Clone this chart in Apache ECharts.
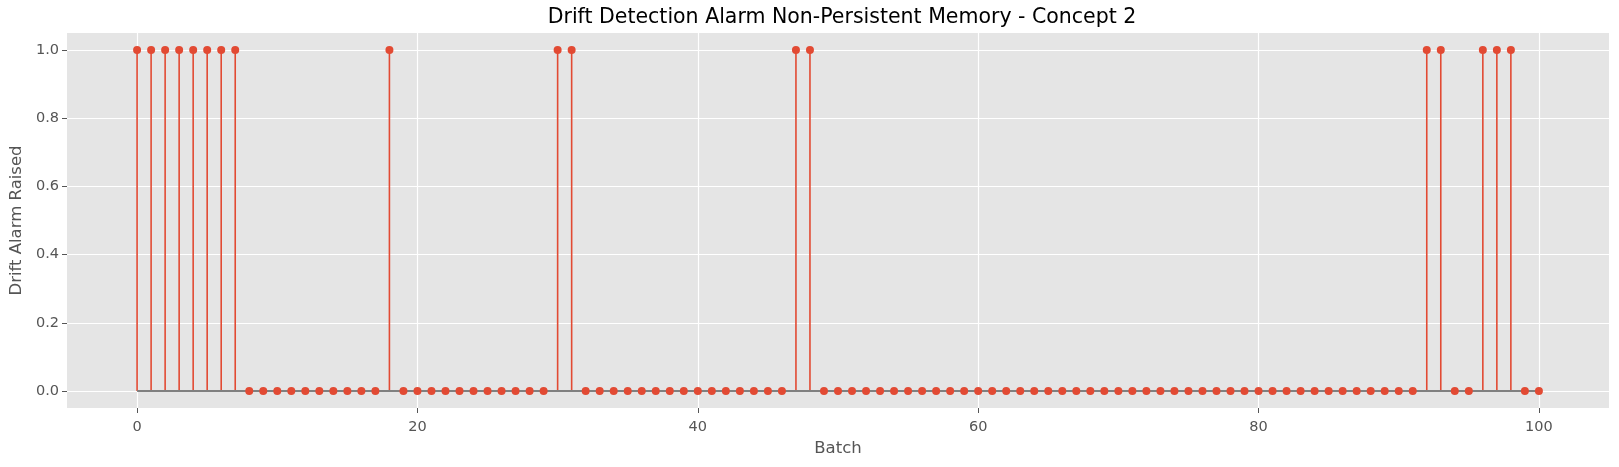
<!DOCTYPE html>
<html>
<head>
<meta charset="utf-8">
<script src="https://cdn.jsdelivr.net/npm/echarts@6/dist/echarts.min.js"></script>
<style>
  html, body { margin: 0; padding: 0; background: #fff; }
  #main { width: 1619px; height: 467px; }
</style>
</head>
<body>
<div id="main"></div>
<script>
// drift alarm per batch (1 = alarm raised)
var alarms = [
    1, 1, 1, 1, 1, 1, 1, 1, 0, 0,
    0, 0, 0, 0, 0, 0, 0, 0, 1, 0,
    0, 0, 0, 0, 0, 0, 0, 0, 0, 0,
    1, 1, 0, 0, 0, 0, 0, 0, 0, 0,
    0, 0, 0, 0, 0, 0, 0, 1, 1, 0,
    0, 0, 0, 0, 0, 0, 0, 0, 0, 0,
    0, 0, 0, 0, 0, 0, 0, 0, 0, 0,
    0, 0, 0, 0, 0, 0, 0, 0, 0, 0,
    0, 0, 0, 0, 0, 0, 0, 0, 0, 0,
    0, 0, 1, 1, 0, 0, 1, 1, 1, 0,
    0
];
var xTicks = [0, 20, 40, 60, 80, 100];
var yTicks = [0, 0.2, 0.4, 0.6, 0.8, 1.0];

var points = alarms.map(function (v, i) { return [i, v]; });
var baseline = [[0, 0], [alarms.length - 1, 0]];

var chart = echarts.init(document.getElementById('main'));
var font = 'DejaVu Sans';
chart.setOption({
    animation: false,
    title: {
        text: 'Drift Detection Alarm Non-Persistent Memory - Concept 2',
        left: 837, top: 2, textAlign: 'center',
        textStyle: { fontFamily: font, fontSize: 20.5, fontWeight: 'normal', color: '#000' }
    },
    grid: {
        left: 66, right: 10, top: 33, bottom: 59,
        show: true, backgroundColor: '#E5E5E5', borderWidth: 0
    },
    xAxis: {
        type: 'value', min: -5, max: 105,
        name: 'Batch', nameLocation: 'middle', nameGap: 30,
        nameTextStyle: { fontFamily: font, fontSize: 16.5, color: '#555', verticalAlign: 'top' },
        axisLine: { show: false, onZero: false },
        axisTick: { show: true, length: 5, customValues: xTicks, lineStyle: { color: '#555' } },
        axisLabel: { customValues: xTicks, fontFamily: font, fontSize: 14.5, color: '#555', margin: 12 },
        splitLine: { show: true, lineStyle: { color: '#fff', width: 1.2 } }
    },
    yAxis: {
        type: 'value', min: -0.05, max: 1.05,
        name: 'Drift Alarm Raised', nameLocation: 'middle', nameGap: 42,
        nameTextStyle: { fontFamily: font, fontSize: 16.5, color: '#555' },
        axisLine: { show: false, onZero: false },
        axisTick: { show: true, length: 5, customValues: yTicks, lineStyle: { color: '#555' } },
        axisLabel: {
            customValues: yTicks, fontFamily: font, fontSize: 14.5, color: '#555', margin: 8,
            formatter: function (v) { return v.toFixed(1); }
        },
        splitLine: { show: true, lineStyle: { color: '#fff', width: 1.2 } }
    },
    series: [
        {
            type: 'bar',
            data: points,
            barWidth: 1.6,
            itemStyle: { color: '#E24A33' },
            z: 2
        },
        {
            type: 'line',
            data: baseline,
            showSymbol: false,
            lineStyle: { color: '#808080', width: 2 },
            z: 3
        },
        {
            type: 'scatter',
            data: points,
            symbolSize: 8,
            itemStyle: { color: '#E24A33', opacity: 1 },
            z: 4
        }
    ]
});
</script>
</body>
</html>
